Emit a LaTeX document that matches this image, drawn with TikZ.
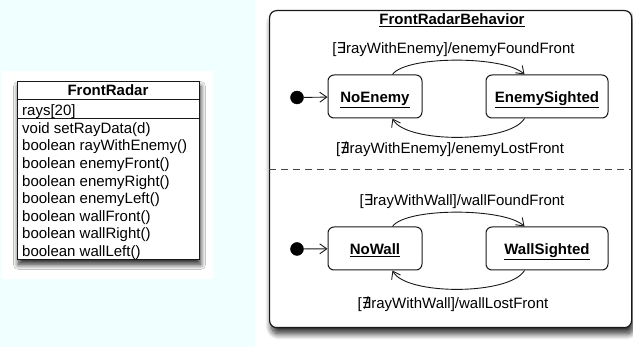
\documentclass[tikz,border=0pt]{standalone}
\usepackage{fontspec}
\setmainfont{Liberation Sans}
\newfontfamily\symfont{DejaVu Sans}
\usetikzlibrary{arrows.meta,shadows.blur}

\definecolor{panelcyan}{RGB}{240,255,255}
\definecolor{ink}{RGB}{25,25,25}

\newcommand{\exq}{{\symfont\char"2203}}
\newcommand{\nexq}{{\symfont\char"2204}}

\begin{document}
\begin{tikzpicture}[x=1pt,y=-1pt,
  txt/.style={font=\fontsize{15}{18}\selectfont, inner sep=0pt},
  boldtxt/.style={font=\fontsize{15}{18}\selectfont\bfseries, inner sep=0pt},
  classbox/.style={draw=ink, line width=1pt, fill=white, inner sep=0pt,
    blur shadow={shadow xshift=1pt, shadow yshift=-5pt,
      shadow blur radius=5pt, shadow blur steps=12, shadow opacity=85}},
  smframe/.style={draw=ink, line width=1.2pt, fill=white, rounded corners=7pt, inner sep=0pt,
    blur shadow={shadow xshift=2pt, shadow yshift=-6pt,
      shadow blur radius=6pt, shadow blur steps=12, shadow opacity=85}},
  statebox/.style={draw=ink, line width=1pt, fill=white, rounded corners=6pt,
    minimum height=43pt, inner sep=0pt, text height=14pt, text depth=1pt,
    font=\fontsize{15}{18}\selectfont\bfseries},
  initdot/.style={circle, fill=black, draw=black, minimum size=13pt, inner sep=0pt},
  trans/.style={draw=ink, line width=0.9pt, -{Straight Barb[length=7pt,width=10pt]}},
  sepline/.style={draw=ink, line width=1pt},
  regionsep/.style={draw=ink!80, line width=1pt, dash pattern=on 7pt off 5pt}
]
\useasboundingbox (0,0) rectangle (633,347);

% backdrop behind the class diagram
\fill[panelcyan] (0,0) rectangle (255,347);
\fill[white] (2,71) rectangle (213,279);

% ---------------- class FrontRadar ----------------
\node[classbox, anchor=north west, minimum width=182pt, minimum height=178pt] (cls) at (17,81) {};
\coordinate (hdrsep) at (108,100);
\coordinate (attrsep) at (108,119);
\draw[sepline] (cls.west |- hdrsep) -- (cls.east |- hdrsep);
\draw[sepline] (cls.west |- attrsep) -- (cls.east |- attrsep);

\node[boldtxt, anchor=base] (clsname) at (108,96) {FrontRadar};
\node[txt, anchor=base west] (attr) at (22,115.4) {rays[20]};
\foreach \txt [count=\i from 0] in {
  void setRayData(d),
  boolean rayWithEnemy(),
  boolean enemyFront(),
  boolean enemyRight(),
  boolean enemyLeft(),
  boolean wallFront(),
  boolean wallRight(),
  boolean wallLeft()}
  \node[txt, anchor=base west] (op\i) at (22,133.4+17.6*\i) {\txt};

% ---------------- state machine FrontRadarBehavior ----------------
\node[smframe, anchor=north west, minimum width=362pt, minimum height=317pt] (sm) at (269,10) {};
\node[boldtxt, anchor=base] (smtitle) at (452,25) {\underline{FrontRadarBehavior}};
\coordinate (regsep) at (450,170);
\draw[regionsep] (sm.west |- regsep) -- (sm.east |- regsep);

% upper region: enemy detection
\node[initdot] (init1) at (297,97.5) {};
\node[statebox, minimum width=94pt] (ne) at (375,96.5) {\underline{NoEnemy}};
\node[statebox, minimum width=122pt] (es) at (547,96.5) {\underline{EnemySighted}};
\draw[trans] (init1) -- (ne);
\draw[trans] ([xshift=-30pt]ne.north east) .. controls +(13,-19) and +(-20,-19) .. ([xshift=39pt]es.north west);
\draw[trans] ([xshift=39pt]es.south west) .. controls +(-15,25) and +(13,25) .. ([xshift=-30pt]ne.south east);
\node[txt, anchor=base] (lblfound1) at (453.5,53.4) {[\exq rayWithEnemy]/enemyFoundFront};
\node[txt, anchor=base] (lbllost1) at (450,153.4) {[\nexq rayWithEnemy]/enemyLostFront};

% lower region: wall detection
\node[initdot] (init2) at (297,249) {};
\node[statebox, minimum width=94pt] (nw) at (375,248.5) {\underline{NoWall}};
\node[statebox, minimum width=122pt] (ws) at (547,248.5) {\underline{WallSighted}};
\draw[trans] (init2) -- (nw);
\draw[trans] ([xshift=-30pt]nw.north east) .. controls +(13,-19) and +(-20,-19) .. ([xshift=39pt]ws.north west);
\draw[trans] ([xshift=39pt]ws.south west) .. controls +(-15,25) and +(13,25) .. ([xshift=-30pt]nw.south east);
\node[txt, anchor=base] (lblfound2) at (462,205.4) {[\exq rayWithWall]/wallFoundFront};
\node[txt, anchor=base] (lbllost2) at (453,308.4) {[\nexq rayWithWall]/wallLostFront};
\end{tikzpicture}
\end{document}
